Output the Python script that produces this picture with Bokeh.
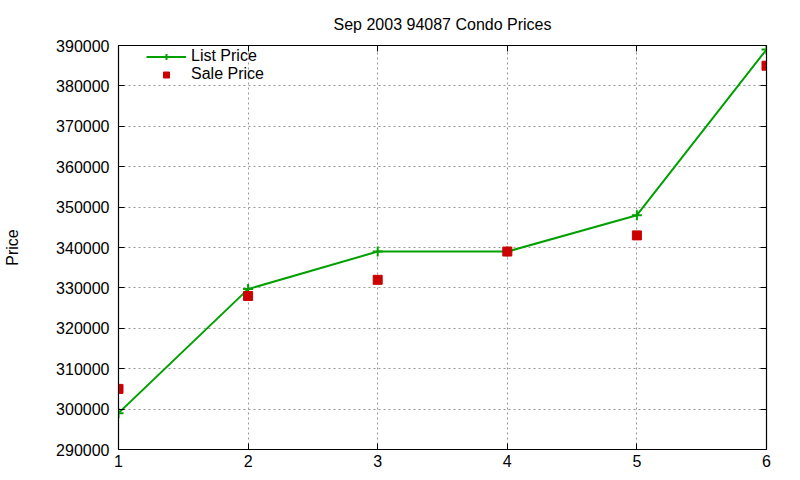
from bokeh.plotting import figure
from bokeh.models import (LinearAxis, Range1d, BasicTickFormatter, Legend,
                          LegendItem, FixedTicker)
from bokeh.embed import file_html
from bokeh.resources import INLINE

# Sep 2003, zip 94087, condos
months = [1, 2, 3, 4, 5, 6]
list_price = [299000, 329700, 339000, 339000, 348000, 389000]
sale_price = [305000, 328000, 332000, 339000, 343000, 385000]
y_ticks = list(range(290000, 390001, 10000))

FONT = "Liberation Sans"
GREEN = "#00a000"
RED = "#cc0000"

p = figure(width=792, height=472, output_backend="svg", toolbar_location=None,
           x_range=Range1d(1, 6), y_range=Range1d(290000, 390000),
           min_border_left=118, min_border_right=26, min_border_top=45,
           min_border_bottom=23)

p.title.text = "Sep 2003 94087 Condo Prices"
p.title.align = "center"
p.title.text_font = FONT
p.title.text_font_style = "normal"
p.title.text_font_size = "16px"
p.title.text_color = "black"
p.title.standoff = 26

p.outline_line_color = "black"
p.outline_line_alpha = 1
p.outline_line_width = 1.2

for ax in (p.xaxis[0], p.yaxis[0]):
    ax.axis_line_color = "black"
    ax.major_tick_in = 6
    ax.major_tick_out = 0
    ax.minor_tick_line_color = None
    ax.major_label_text_font = FONT
    ax.major_label_text_font_size = "16px"
    ax.major_label_text_color = "black"

p.xaxis.major_label_standoff = 5
p.yaxis.major_label_standoff = 9

p.xaxis.ticker = FixedTicker(ticks=months)
p.yaxis.ticker = FixedTicker(ticks=y_ticks)
p.yaxis.formatter = BasicTickFormatter(use_scientific=False)
p.yaxis.axis_label = "Price"
p.yaxis.axis_label_text_font = FONT
p.yaxis.axis_label_text_font_style = "normal"
p.yaxis.axis_label_text_font_size = "16px"
p.yaxis.axis_label_text_color = "black"
p.yaxis.axis_label_standoff = 32

p.xgrid.ticker = FixedTicker(ticks=months)
p.ygrid.ticker = FixedTicker(ticks=y_ticks)
p.grid.grid_line_color = "#999999"
p.grid.grid_line_dash = "2 3"
p.grid.grid_line_width = 1

# mirrored ticks on top and right, like gnuplot's border (no labels)
right = LinearAxis(ticker=FixedTicker(ticks=y_ticks), major_tick_in=6,
                   major_tick_out=0, minor_tick_line_color=None,
                   major_label_text_color=None, major_label_text_font_size="1px",
                   major_label_standoff=0, axis_line_color="black")
top = LinearAxis(ticker=FixedTicker(ticks=months), major_tick_in=6,
                 major_tick_out=0, minor_tick_line_color=None,
                 major_label_text_color=None, major_label_text_font_size="1px",
                 major_label_standoff=0, axis_line_color="black")
p.add_layout(right, "right")
p.add_layout(top, "above")

ln = p.line(months, list_price, line_color=GREEN, line_width=2)
lm = p.scatter(months, list_price, marker="cross", size=10, line_color=GREEN,
               line_width=2)
sm = p.scatter(months, sale_price, marker="square", size=9, fill_color=RED,
               line_color=RED)

legend = Legend(items=[LegendItem(label="List Price", renderers=[ln, lm]),
                       LegendItem(label="Sale Price", renderers=[sm])],
                location=(28, 366), border_line_color=None,
                background_fill_alpha=0, label_text_font=FONT,
                label_text_font_size="16px", label_text_color="black",
                glyph_width=40, spacing=0, padding=2, margin=0,
                label_height=15, glyph_height=15)
p.add_layout(legend)

open("out.html", "w").write(file_html(p, INLINE))
